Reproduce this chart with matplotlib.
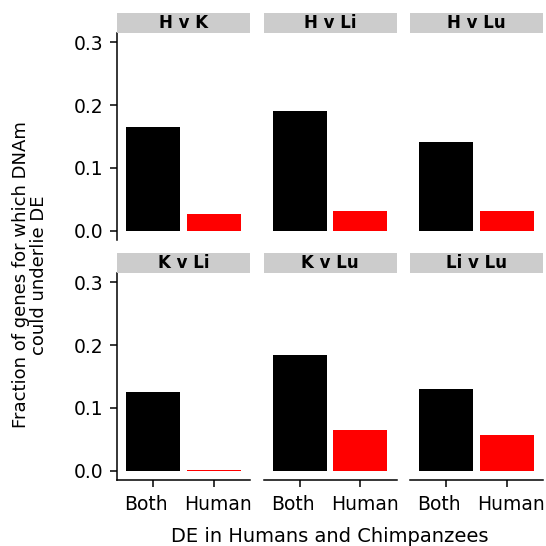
import matplotlib
matplotlib.use("Agg")
import matplotlib.pyplot as plt
import matplotlib.transforms as mtransforms

comparisons = ["H v K", "H v Li", "H v Lu", "K v Li", "K v Lu", "Li v Lu"]
categories = ["Both", "Human"]
both = [0.165, 0.191, 0.141, 0.125, 0.184, 0.130]
human = [0.026, 0.031, 0.031, 0.001, 0.065, 0.057]
bar_colors = ["#000000", "#FF0000"]
y_ticks = [0.0, 0.1, 0.2, 0.3]
y_ticklabels = ["0.0", "0.1", "0.2", "0.3"]

plt.rcParams['font.family'] = ['DejaVu Sans']

W = H = 546
fig = plt.figure(figsize=(W / 100, H / 100), dpi=100)

def px_axes(x0, y0, w, h):
    return fig.add_axes([x0 / W, 1 - (y0 + h) / H, w / W, h / H])

col_x = [117, 263.5, 410]
row_y = [33, 273]
pw, ph = 133, 207
strip_h = 20
lw = 1.1
label_shift_px = [-7, 4.5]

for i, comp in enumerate(comparisons):
    r, c = divmod(i, 3)
    ax = px_axes(col_x[c], row_y[r], pw, ph)
    vals = [both[i], human[i]]
    ax.bar([0, 1], vals, width=0.9, color=bar_colors, edgecolor="none")
    ax.set_xlim(-0.6, 1.6)
    ax.set_ylim(-0.015, 0.315)
    for s in ax.spines.values():
        s.set_visible(False)
    ax.tick_params(axis="both", labelsize=13.5, width=lw, length=5, color="black", labelcolor="black")
    if c == 0:
        ax.spines["left"].set_visible(True)
        ax.spines["left"].set_linewidth(lw)
        ax.set_yticks(y_ticks)
        ax.set_yticklabels(y_ticklabels)
        ax.tick_params(axis="y", pad=5)
    else:
        ax.set_yticks([])
    if r == 1:
        ax.spines["bottom"].set_visible(True)
        ax.spines["bottom"].set_linewidth(lw)
        ax.set_xticks([0, 1])
        ax.set_xticklabels(categories)
        ax.tick_params(axis="x", pad=6)
        for lab, dx in zip(ax.get_xticklabels(), label_shift_px):
            off = mtransforms.ScaledTranslation(dx / 100, 0, fig.dpi_scale_trans)
            lab.set_transform(lab.get_transform() + off)
    else:
        ax.set_xticks([])
    # strip
    sax = px_axes(col_x[c], row_y[r] - strip_h, pw, strip_h)
    sax.set_facecolor("#CCCCCC")
    sax.set_xticks([]); sax.set_yticks([])
    for s in sax.spines.values():
        s.set_visible(False)
    sax.text(0.5, 0.48, comp, ha="center", va="center", fontsize=12,
             fontweight="bold", transform=sax.transAxes)

fig.text(330 / W, 1 - 537 / H, "DE in Humans and Chimpanzees", ha="center", va="center", fontsize=14)
fig.text(30 / W, 1 - 275 / H, "Fraction of genes for which DNAm\ncould underlie DE", ha="center", va="center",
         rotation=90, fontsize=13, multialignment="center", linespacing=1.0)

fig.savefig("out.png", dpi=100, facecolor="white")
